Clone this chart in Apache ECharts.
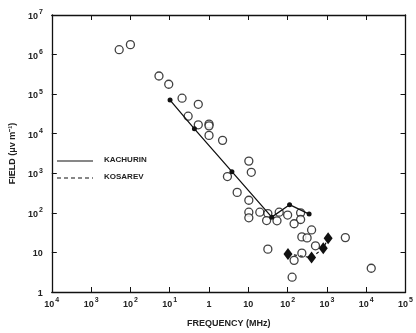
<!DOCTYPE html>
<html><head><meta charset="utf-8">
<script src="https://cdn.jsdelivr.net/npm/echarts@6/dist/echarts.min.js"></script>
<style>html,body{margin:0;padding:0;background:#fff}#c{width:416px;height:333px}</style>
</head><body><div id="c"></div>
<script>
// Tick labels as printed on the reference (exponent after '^')
var xTickLabels = ['10^4','10^3','10^2','10^1','1','10','10^2','10^3','10^4','10^5'];
var yTickLabels = ['1','10','10^2','10^3','10^4','10^5','10^6','10^7'];

// Open circles: [frequency MHz, field uV/m]
var obsFreq = [0.00518,0.0100,0.0533,0.0944,0.206,0.533,0.294,0.533,1.0,1.0,1.0,2.21,10.3,11.9,2.94,5.2,10.3,10.3,10.3,19.6,31.4,29.2,53.6,61,100,214,214,146,407,230,313,511,31.4,230,146,130,2940,13400];
var obsField = [1.33e6,1.78e6,2.87e5,1.78e5,7.9e4,5.53e4,2.77e4,1.68e4,1.75e4,1.58e4,9.07e3,6.8e3,2.03e3,1.06e3,827,329,208,104,75,104,96,64,63,104,88,100,68,53,37,24.7,23.3,14.7,12.1,9.6,6.3,2.37,23.7,3.98];

// KACHURIN (solid line, filled dots)
var kachFreq = [0.102,0.425,3.82,39.4,112,352];
var kachField = [7.08e4,1.33e4,1.1e3,78,161,93];

// KOSAREV (dashed line, filled diamonds)
var kosFreq = [102,407,807,1072];
var kosField = [9.1,7.4,12.8,22.8];

function zip(a,b){return a.map(function(v,i){return [v,b[i]];});}
function rich(s){
  var p = s.split('^');
  return p.length>1 ? '{b|'+p[0]+'}{s|'+p[1]+'}' : '{b|'+p[0]+'}';
}
var richStyle = {
  b:{fontSize:9,fontWeight:'bold',color:'#222',fontFamily:'Liberation Sans',lineHeight:12,verticalAlign:'bottom'},
  s:{fontSize:7,fontWeight:'bold',color:'#222',fontFamily:'Liberation Sans',lineHeight:12,verticalAlign:'top',padding:[0,0,0,1]}
};
var chart = echarts.init(document.getElementById('c'),null,{renderer:'canvas'});
var axLine = {show:true,lineStyle:{color:'#111',width:1.3}};
chart.setOption({
  animation:false,
  backgroundColor:'#fff',
  grid:{left:45,right:7,top:15,bottom:38,containLabel:false},
  xAxis:[{
    type:'log',logBase:10,min:1e-4,max:1e5,position:'bottom',
    axisLine:axLine,splitLine:{show:false},minorTick:{show:false},
    axisTick:{show:true,inside:true,length:5,lineStyle:{color:'#111'}},
    axisLabel:{margin:5,formatter:function(v){var i=Math.round(Math.log10(v))+4;return rich(xTickLabels[i]);},rich:richStyle},
    name:'FREQUENCY (MHz)',nameLocation:'middle',nameGap:27,
    nameTextStyle:{fontSize:9,fontWeight:'bold',color:'#222',fontFamily:'Liberation Sans'}
  },{
    type:'log',logBase:10,min:1e-4,max:1e5,position:'top',
    axisLine:axLine,splitLine:{show:false},
    axisTick:{show:true,inside:true,length:5,lineStyle:{color:'#111'}},
    axisLabel:{show:false}
  }],
  yAxis:[{
    type:'log',logBase:10,min:1,max:1e7,position:'left',
    axisLine:axLine,splitLine:{show:false},
    axisTick:{show:true,inside:true,length:5,lineStyle:{color:'#111'}},
    axisLabel:{margin:9,formatter:function(v){var i=Math.round(Math.log10(v));return rich(yTickLabels[i]);},rich:richStyle},
    name:'FIELD (\u03bcv m\u207b\u00b9)',nameLocation:'middle',nameGap:24,nameRotate:90,
    nameTextStyle:{fontSize:9,fontWeight:'bold',color:'#222',fontFamily:'Liberation Sans'}
  },{
    type:'log',logBase:10,min:1,max:1e7,position:'right',
    axisLine:axLine,splitLine:{show:false},
    axisTick:{show:true,inside:true,length:5,lineStyle:{color:'#111'}},
    axisLabel:{show:false}
  }],
  series:[{
    type:'scatter',name:'observed',data:zip(obsFreq,obsField),
    symbol:'circle',symbolSize:8,
    itemStyle:{color:'#fff',borderColor:'#111',borderWidth:1.3},z:3
  },{
    type:'line',name:'KACHURIN',data:zip(kachFreq,kachField),
    symbol:'circle',symbolSize:5,showSymbol:true,
    lineStyle:{color:'#111',width:1.3},itemStyle:{color:'#111'},z:4
  },{
    type:'line',name:'KOSAREV',data:zip(kosFreq,kosField),
    symbol:'diamond',symbolSize:[9,12],showSymbol:true,
    lineStyle:{color:'#111',width:1.2,type:[3,3]},itemStyle:{color:'#111'},z:4
  }],
  graphic:[
    {type:'line',shape:{x1:57,y1:161,x2:93,y2:161},style:{stroke:'#111',lineWidth:1.2}},
    {type:'text',left:104,top:156,style:{text:'KACHURIN',fontSize:8,fontWeight:'bold',fill:'#222',fontFamily:'Liberation Sans'}},
    {type:'line',shape:{x1:57,y1:178,x2:93,y2:178},style:{stroke:'#111',lineWidth:1.2,lineDash:[4,3]}},
    {type:'text',left:104,top:173,style:{text:'KOSAREV',fontSize:8,fontWeight:'bold',fill:'#222',fontFamily:'Liberation Sans'}}
  ]
});
</script></body></html>
